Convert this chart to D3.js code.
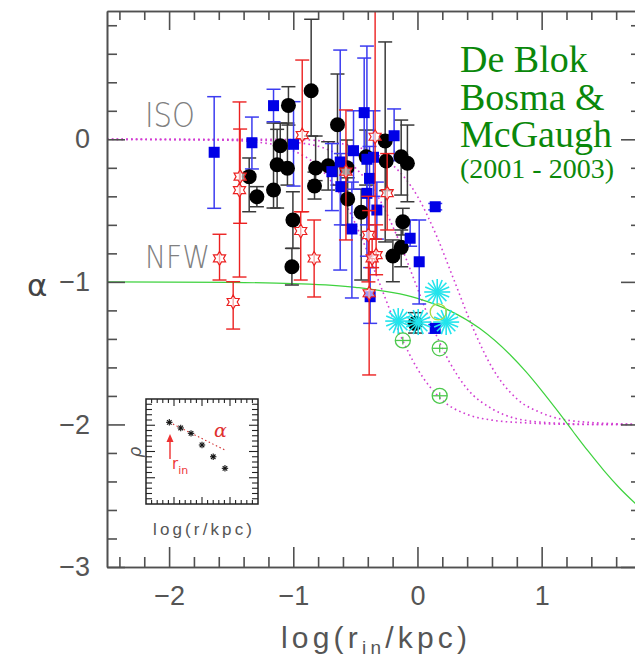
<!DOCTYPE html>
<html><head><meta charset="utf-8">
<script src="https://cdn.jsdelivr.net/npm/d3@7"></script>
<style>
html,body{margin:0;padding:0;background:#fff;}
svg{display:block;}
</style></head><body>
<svg id="chart" width="635" height="660"></svg>
<script>
// Axis ranges and tick labels
const xDomain = [-2.5, 1.8];
const yDomain = [-3, 0.9];
const xMajorTicks = [-2, -1, 0, 1];
const yMajorTicks = [-3, -2, -1, 0];

// Each record: [log(r_in/kpc), alpha, error bar low end, error bar high end]
const blackCircles = [
  [-1.355, -0.262, -0.508, -0.131],
  [-1.293, -0.403, -0.473, -0.332],
  [-1.159, -0.356, -0.482, 0.114],
  [-1.105, -0.045, -0.208, 0.114],
  [-1.130, -0.178, -0.482, 0.070],
  [-1.047, -0.203, -0.321, 0.114],
  [-1.039, 0.238, 0.100, 0.369],
  [-1.003, -0.566, -0.765, -0.368],
  [-1.011, -0.894, -1.022, -0.765],
  [-0.856, 0.341, 0.023, 0.842],
  [-0.820, -0.201, -0.290, 0.023],
  [-0.829, -0.328, -0.419, -0.230],
  [-0.719, -0.185, -0.356, -0.017],
  [-0.644, 0.102, -0.321, 0.458],
  [-0.568, -0.199, -0.391, -0.005],
  [-0.562, -0.419, -0.601, -0.270],
  [-0.453, -0.512, -0.987, -0.350],
  [-0.413, -0.122, -0.321, 0.065],
  [-0.260, -0.012, -0.720, 0.683],
  [-0.252, -0.152, -0.360, 0.030],
  [-0.131, -0.122, -0.391, 0.135],
  [-0.081, -0.168, -0.438, 0.100],
  [-0.118, -0.578, -0.671, -0.484],
  [-0.131, -0.758, -0.894, -0.636],
  [-0.198, -0.819, -0.999, -0.706],
  [-0.019, -1.291, -1.359, -1.216]
];

const blueSquares = [
  [-1.637, -0.091, -0.484, 0.299],
  [-1.333, -0.024, -0.208, 0.156],
  [-1.159, 0.236, 0.123, 0.351],
  [-0.998, -0.035, -0.328, 0.264],
  [-0.622, -0.159, -0.917, 0.626],
  [-0.429, 0.187, -0.100, 0.570],
  [-0.188, 0.025, -0.150, 0.213],
  [-0.515, -0.080, -0.350, 0.200],
  [-0.689, -0.227, -0.500, -0.030],
  [-0.407, -0.140, -0.600, 0.654],
  [-0.354, -0.126, -0.400, 0.200],
  [-0.386, -0.274, -0.500, -0.050],
  [-0.407, -0.379, -0.820, -0.150],
  [-0.617, -0.332, -0.600, -0.100],
  [-0.528, -0.629, -1.113, -0.300],
  [-0.327, -0.496, -0.700, -0.300],
  [0.143, -0.473, -0.495, -0.450],
  [-0.059, -0.694, -0.750, -0.566],
  [0.014, -0.859, -1.155, -0.566],
  [-0.381, -1.104, -1.291, -0.900],
  [0.143, -1.326, -1.360, -1.300]
];

const redStars = [
  [-1.594, -0.835, -0.987, -0.666],
  [-1.428, -0.262, -0.589, 0.072],
  [-1.433, -0.356, -0.966, 0.262],
  [-1.484, -1.141, -1.331, -0.999],
  [-0.928, 0.030, -0.508, 0.556],
  [-0.940, -0.643, -0.987, -0.508],
  [-0.832, -0.836, -1.106, -0.566],
  [-0.576, -0.227, -0.706, 0.206],
  [-0.341, 0.018, -0.700, 0.900],
  [-0.244, -0.377, -0.636, -0.100],
  [-0.395, -0.671, -1.000, -0.400],
  [-0.333, -0.812, -0.950, -0.600],
  [-0.365, -0.835, -0.900, -0.700],
  [-0.389, -1.080, -1.653, -0.500]
];

// [log(r_in/kpc), alpha]
const cyanAsterisks = [
  [-0.155, -1.275],
  [0.006, -1.282],
  [0.159, -1.071],
  [0.231, -1.282]
];

// [log(r_in/kpc), alpha, error bar low end, error bar high end]
const greenCircles = [
  [-0.118, -1.411, -1.440, -1.385],
  [0.179, -1.466, -1.495, -1.440],
  [0.179, -1.799, -1.825, -1.775]
];
const greenOpenCircle = [[0.167, -1.211]];

// Model curves: pseudo-isothermal halos of three core radii, and NFW
const isoCurveA = [[-2.5,0],[-1.6,-0.005],[-1.2,-0.03],[-1.0,-0.08],[-0.8,-0.19],[-0.6,-0.42],[-0.45,-0.69],[-0.31,-1.0],[-0.15,-1.35],[0,-1.61],[0.2,-1.83],[0.4,-1.93],[0.6,-1.97],[0.9,-1.99],[1.3,-2.0],[1.8,-2.0]];
const isoCurveB = [[-2.5,0],[-1.3,-0.006],[-1.0,-0.02],[-0.7,-0.08],[-0.5,-0.2],[-0.3,-0.43],[-0.15,-0.71],[-0.02,-1.0],[0.1,-1.27],[0.25,-1.55],[0.4,-1.75],[0.6,-1.89],[0.8,-1.96],[1.1,-1.99],[1.5,-2.0],[1.8,-2.0]];
const isoCurveC = [[-2.5,0],[-1.0,-0.001],[-0.7,-0.02],[-0.4,-0.08],[-0.2,-0.18],[0,-0.4],[0.15,-0.67],[0.3,-1.0],[0.45,-1.33],[0.6,-1.6],[0.8,-1.82],[1.0,-1.92],[1.3,-1.98],[1.8,-2.0]];
const nfwCurve = [[-2.5,-1.0],[-1.5,-1.004],[-1,-1.012],[-0.5,-1.038],[0,-1.116],[0.25,-1.198],[0.5,-1.326],[0.75,-1.515],[0.875,-1.632],[1.0,-1.763],[1.125,-1.902],[1.25,-2.046],[1.375,-2.188],[1.5,-2.322],[1.625,-2.444],[1.8,-2.591]];

// Inset sketch: density points (arbitrary units 0-10)
const insetPoints = [[2.08,7.78],[3.1,7.24],[4.02,6.73],[5.0,5.62],[6.0,4.5],[7.05,3.4]];
const insetSlope = [[2.08,7.78],[7.05,5.14]];

const svg = d3.select('#chart');
const x = d3.scaleLinear().domain(xDomain).range([107, 641]);
const y = d3.scaleLinear().domain(yDomain).range([567, 11]);
const axisColor = '#505050';

svg.append('defs').append('clipPath').attr('id', 'plotClip')
  .append('rect').attr('x', 107).attr('y', 11).attr('width', 534).attr('height', 556);

const plot = svg.append('g').attr('clip-path', 'url(#plotClip)');

// model curves
const line = d3.line().x(d => x(d[0])).y(d => y(d[1])).curve(d3.curveMonotoneX);
[isoCurveA, isoCurveB, isoCurveC].forEach(c => {
  plot.append('path').attr('d', line(c)).attr('fill', 'none')
    .attr('stroke', '#d23cd2').attr('stroke-width', 1.6).attr('stroke-dasharray', '1.6,3.2');
});
plot.append('path').attr('d', line(nfwCurve)).attr('fill', 'none')
  .attr('stroke', '#3ed23e').attr('stroke-width', 1.2);

// error bars
function errorBars(data, color, width) {
  const g = plot.append('g').attr('stroke', color).attr('stroke-width', width);
  data.forEach(d => {
    const cx = x(d[0]);
    g.append('line').attr('x1', cx).attr('x2', cx).attr('y1', y(d[2])).attr('y2', y(d[3]));
    [d[2], d[3]].forEach(v => g.append('line').attr('x1', cx - 7).attr('x2', cx + 7).attr('y1', y(v)).attr('y2', y(v)));
  });
}

errorBars(blackCircles, '#3a3a3a', 1.5);
errorBars(blueSquares, '#3c3cf0', 1.5);

plot.append('g').selectAll('circle').data(blackCircles).join('circle')
  .attr('cx', d => x(d[0])).attr('cy', d => y(d[1])).attr('r', 7.5).attr('fill', '#000');

plot.append('g').selectAll('rect').data(blueSquares).join('rect')
  .attr('x', d => x(d[0]) - 5.5).attr('y', d => y(d[1]) - 5.5)
  .attr('width', 11).attr('height', 11).attr('fill', '#0000e6');

errorBars(redStars, '#ec2020', 1.4);
function hexagram(r) {
  const pts = [];
  for (let i = 0; i < 12; i++) {
    const a = Math.PI / 6 * i - Math.PI / 2;
    const rr = i % 2 === 0 ? r : r * 0.58;
    pts.push([rr * Math.cos(a), rr * Math.sin(a)]);
  }
  return 'M' + pts.map(p => p.join(',')).join('L') + 'Z';
}
plot.append('g').selectAll('path').data(redStars).join('path')
  .attr('transform', d => `translate(${x(d[0])},${y(d[1])})`)
  .attr('d', hexagram(7)).attr('fill', '#fff').attr('fill-opacity', 0.6)
  .attr('stroke', '#ec2020').attr('stroke-width', 1.2);

// cyan asterisks
const cyanG = plot.append('g').attr('stroke', '#22e4ec').attr('stroke-width', 1.6);
cyanAsterisks.forEach(d => {
  const cx = x(d[0]), cy = y(d[1]);
  for (let i = 0; i < 8; i++) {
    const a = Math.PI / 8 * i;
    cyanG.append('line').attr('x1', cx - 13 * Math.cos(a)).attr('y1', cy - 13 * Math.sin(a))
      .attr('x2', cx + 13 * Math.cos(a)).attr('y2', cy + 13 * Math.sin(a));
  }
});

// green open circles
const greenG = plot.append('g').attr('stroke', '#4cc84c').attr('stroke-width', 1.3).attr('fill', 'none');
greenCircles.forEach(d => {
  const cx = x(d[0]), cy = y(d[1]);
  greenG.append('circle').attr('cx', cx).attr('cy', cy).attr('r', 7.5);
  greenG.append('line').attr('x1', cx - 7.5).attr('x2', cx + 7.5).attr('y1', cy).attr('y2', cy);
  greenG.append('line').attr('x1', cx).attr('x2', cx).attr('y1', y(d[2])).attr('y2', y(d[3]));
});
plot.append('g').selectAll('circle').data(greenOpenCircle).join('circle')
  .attr('cx', d => x(d[0])).attr('cy', d => y(d[1])).attr('r', 8)
  .attr('fill', 'none').attr('stroke', '#a8d840').attr('stroke-width', 1.3);

// frame with inward ticks
function styleAxis(g) {
  g.attr('color', axisColor).attr('font-family', 'Liberation Sans').attr('font-size', 27);
  g.selectAll('path,line').attr('stroke-width', 1.6);
  g.selectAll('text').attr('fill', '#555');
}
const isMinor = v => Math.abs(v - Math.round(v)) > 0.01;
const xMinor = d3.range(-2.4, 1.81, 0.2).filter(isMinor);
const yMinor = d3.range(-2.8, 0.91, 0.2).filter(isMinor);
const intFmt = d3.format('d');

svg.append('g').attr('transform', 'translate(0,567)')
  .call(d3.axisBottom(x).tickValues(xMajorTicks).tickFormat(intFmt).tickSize(-20).tickSizeOuter(0).tickPadding(19)).call(styleAxis);
svg.append('g').attr('transform', 'translate(0,567)')
  .call(d3.axisBottom(x).tickValues(xMinor).tickSize(-10).tickSizeOuter(0).tickFormat('')).call(styleAxis);
svg.append('g').attr('transform', 'translate(0,11)')
  .call(d3.axisTop(x).tickValues(xMajorTicks).tickSize(-19).tickSizeOuter(0).tickFormat('')).call(styleAxis);
svg.append('g').attr('transform', 'translate(0,11)')
  .call(d3.axisTop(x).tickValues(xMinor).tickSize(-9).tickSizeOuter(0).tickFormat('')).call(styleAxis);
svg.append('g').attr('transform', 'translate(107,0)')
  .call(d3.axisLeft(y).tickValues(yMajorTicks).tickFormat(intFmt).tickSize(-18).tickSizeOuter(0).tickPadding(17)).call(styleAxis);
svg.append('g').attr('transform', 'translate(107,0)')
  .call(d3.axisLeft(y).tickValues(yMinor).tickSize(-10).tickSizeOuter(0).tickFormat('')).call(styleAxis);
svg.append('g').attr('transform', 'translate(641,0)')
  .call(d3.axisRight(y).tickValues(yMajorTicks).tickSize(-20).tickSizeOuter(0).tickFormat('')).call(styleAxis);
svg.append('g').attr('transform', 'translate(641,0)')
  .call(d3.axisRight(y).tickValues(yMinor).tickSize(-10).tickSizeOuter(0).tickFormat('')).call(styleAxis);

// axis titles
const title = svg.append('text').attr('x', 281).attr('y', 648)
  .attr('font-family', 'Liberation Sans').attr('font-size', 30).attr('fill', '#555')
  .attr('textLength', 186).attr('lengthAdjust', 'spacing');
title.append('tspan').text('log(r');
title.append('tspan').attr('font-size', 19).attr('dy', 6).text('in');
title.append('tspan').attr('dy', -6).text('/kpc)');

svg.append('text').attr('x', 27).attr('y', 296)
  .attr('font-family', 'DejaVu Sans').attr('font-size', 31).attr('fill', '#444').text('α');

// model labels
svg.append('text').attr('x', 145).attr('y', 126.5)
  .attr('font-family', 'DejaVu Sans').attr('font-weight', 300).attr('font-size', 34).attr('fill', '#808080')
  .attr('textLength', 50).attr('lengthAdjust', 'spacingAndGlyphs').text('ISO');
svg.append('text').attr('x', 145).attr('y', 268)
  .attr('font-family', 'DejaVu Sans').attr('font-weight', 300).attr('font-size', 32).attr('fill', '#808080')
  .attr('textLength', 65).attr('lengthAdjust', 'spacingAndGlyphs').text('NFW');

// reference block
const refLines = [['De Blok', 72, 38], ['Bosma &', 110, 38], ['McGaugh', 147, 38], ['(2001 - 2003)', 178, 28]];
refLines.forEach(([t, yy, fs]) => {
  svg.append('text').attr('x', 460).attr('y', yy)
    .attr('font-family', 'Liberation Serif').attr('font-size', fs).attr('fill', '#0a880a').text(t);
});

// inset sketch
const ix = d3.scaleLinear().domain([0, 10]).range([146, 258]);
const iy = d3.scaleLinear().domain([0, 10]).range([504, 399]);
const inset = svg.append('g');
inset.append('rect').attr('x', 146).attr('y', 399).attr('width', 112).attr('height', 105)
  .attr('fill', '#fff').attr('stroke', '#222').attr('stroke-width', 1.5);
const iTicks = d3.range(0.5, 10, 0.5);
const tickG = inset.append('g').attr('stroke', '#222').attr('stroke-width', 1.1);
iTicks.forEach((v, i) => {
  const len = (i + 1) % 5 === 0 ? 7 : 4;
  tickG.append('line').attr('x1', ix(v)).attr('x2', ix(v)).attr('y1', 399).attr('y2', 399 + len);
  tickG.append('line').attr('x1', ix(v)).attr('x2', ix(v)).attr('y1', 504).attr('y2', 504 - len);
  tickG.append('line').attr('y1', iy(v)).attr('y2', iy(v)).attr('x1', 146).attr('x2', 146 + len + 2);
  tickG.append('line').attr('y1', iy(v)).attr('y2', iy(v)).attr('x1', 258).attr('x2', 258 - len - 2);
});
inset.append('path').attr('d', d3.line().x(d => ix(d[0])).y(d => iy(d[1]))(insetSlope))
  .attr('stroke', '#d03030').attr('stroke-width', 1.1).attr('stroke-dasharray', '1.5,2.5').attr('fill', 'none');
const starG = inset.append('g').attr('stroke', '#111').attr('stroke-width', 1.1);
insetPoints.forEach(d => {
  const cx = ix(d[0]), cy = iy(d[1]);
  for (let i = 0; i < 4; i++) {
    const a = Math.PI / 4 * i;
    starG.append('line').attr('x1', cx - 3.2 * Math.cos(a)).attr('y1', cy - 3.2 * Math.sin(a))
      .attr('x2', cx + 3.2 * Math.cos(a)).attr('y2', cy + 3.2 * Math.sin(a));
  }
});
// r_in arrow
inset.append('line').attr('x1', 170).attr('x2', 170).attr('y1', 459).attr('y2', 440)
  .attr('stroke', '#ee3030').attr('stroke-width', 1.4);
inset.append('path').attr('d', 'M166.5,442 L170,434 L173.5,442 Z').attr('fill', '#ee3030');
const rin = inset.append('text').attr('x', 172).attr('y', 469)
  .attr('font-family', 'DejaVu Sans').attr('font-size', 15).attr('fill', '#ee3838');
rin.append('tspan').text('r');
rin.append('tspan').attr('font-size', 11).attr('dy', 5).text('in');
inset.append('text').attr('x', 214).attr('y', 437)
  .attr('font-family', 'DejaVu Serif').attr('font-style', 'italic').attr('font-size', 19).attr('fill', '#e03030').text('α');
inset.append('text').attr('transform', 'translate(141,452) rotate(-90)').attr('text-anchor', 'middle')
  .attr('font-family', 'DejaVu Sans').attr('font-style', 'italic').attr('font-size', 17).attr('fill', '#555').text('ρ');
inset.append('text').attr('x', 153).attr('y', 535)
  .attr('font-family', 'Liberation Sans').attr('font-size', 17).attr('fill', '#555')
  .attr('textLength', 99).attr('lengthAdjust', 'spacing').text('log(r/kpc)');
</script>
</body></html>
